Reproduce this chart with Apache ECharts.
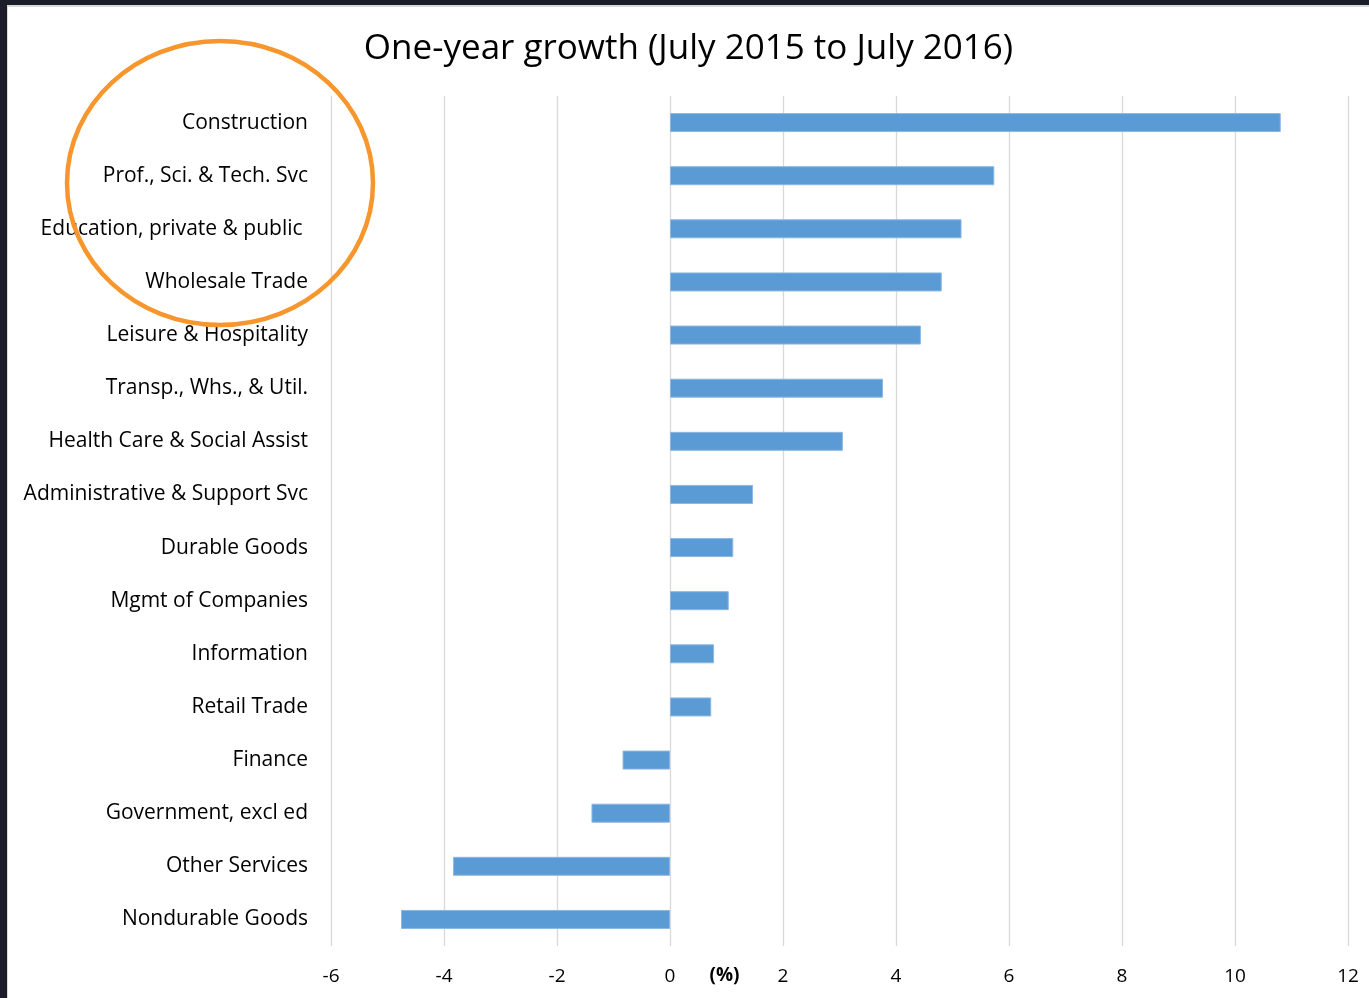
<!DOCTYPE html>
<html>
<head>
<meta charset="utf-8">
<script src="https://cdn.jsdelivr.net/npm/echarts@6/dist/echarts.min.js"></script>
<style>
  html, body { margin: 0; padding: 0; background: #1b1d2b; width: 1369px; height: 998px; overflow: hidden; }
  #frame { position: absolute; left: 7px; top: 5px; width: 1362px; height: 993px; background: #d9d9d9; }
  #chart { position: absolute; left: 8px; top: 7px; width: 1361px; height: 991px; background: #fff; }
</style>
</head>
<body>
<div id="frame"></div>
<div id="chart"></div>
<script>
const categories = [
  "Construction",
  "Prof., Sci. & Tech. Svc",
  "Education, private & public ",
  "Wholesale Trade",
  "Leisure & Hospitality",
  "Transp., Whs., & Util.",
  "Health Care & Social Assist",
  "Administrative & Support Svc",
  "Durable Goods",
  "Mgmt of Companies",
  "Information",
  "Retail Trade",
  "Finance",
  "Government, excl ed",
  "Other Services",
  "Nondurable Goods"
];
const growth = [10.81, 5.74, 5.16, 4.81, 4.44, 3.77, 3.06, 1.47, 1.12, 1.04, 0.78, 0.73, -0.84, -1.39, -3.84, -4.76];
const titleText = "One-year growth (July 2015 to July 2016)";
const unitLabel = "(%)";
const xMin = -6, xMax = 12, xStep = 2;

const FONT = "'Open Sans', 'Noto Sans', sans-serif";
const chart = echarts.init(document.getElementById('chart'));
const option = {
  backgroundColor: '#ffffff',
  animation: false,
  title: {
    text: titleText,
    left: 'center',
    top: 20,
    textStyle: { fontFamily: FONT, fontSize: 35, fontWeight: 'normal', color: '#000' }
  },
  grid: { left: 323, right: 21, top: 89, height: 850, containLabel: false },
  xAxis: {
    type: 'value',
    min: xMin, max: xMax, interval: xStep,
    axisLine: { show: false },
    axisTick: { show: false },
    axisLabel: { fontFamily: FONT, fontSize: 19, color: '#000', margin: 21 },
    splitLine: { show: true, lineStyle: { color: '#d9d9d9', width: 1.3 } }
  },
  yAxis: {
    type: 'category',
    data: categories,
    inverse: true,
    axisLine: { show: false },
    axisTick: { show: false },
    axisLabel: { fontFamily: FONT, fontSize: 21, color: '#000', margin: 23 }
  },
  series: [{
    type: 'bar',
    data: growth,
    barWidth: 19,
    itemStyle: { color: '#5b9bd5', borderColor: '#8db6e2', borderWidth: 1 }
  }]
};
chart.setOption(option);

const x0 = chart.convertToPixel({ xAxisIndex: 0 }, 0);
const x2 = chart.convertToPixel({ xAxisIndex: 0 }, 2);
chart.setOption({
  graphic: [
    {
      type: 'text',
      left: (x0 + x2) / 2 - 17,
      top: 959,
      style: { text: unitLabel, font: "bold 19px " + FONT, fill: '#000' }
    },
    {
      type: 'ellipse',
      shape: { cx: 212, cy: 176, rx: 153, ry: 142 },
      style: { fill: 'none', stroke: '#f7962c', lineWidth: 4.5 },
      z: 100
    }
  ]
});
</script>
</body>
</html>
